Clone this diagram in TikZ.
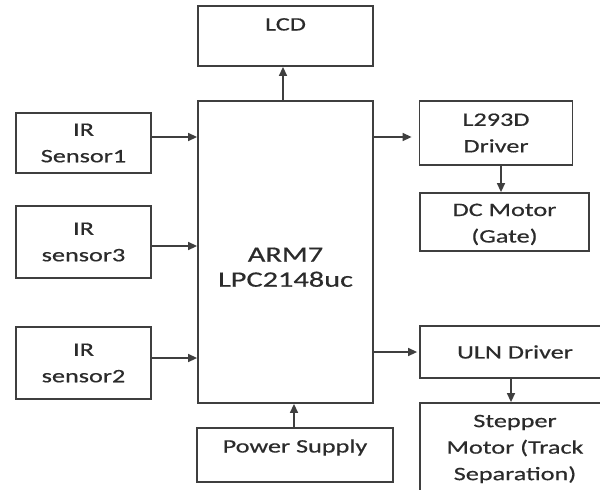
\documentclass[tikz,border=0pt]{standalone}
\usepackage{fontspec}
\setmainfont{Carlito}[FakeStretch=1.38, FakeBold=0.5]
\definecolor{lineGray}{HTML}{3F3F3F}
\definecolor{textDark}{HTML}{2B2B2B}
\usetikzlibrary{positioning, arrows.meta}

\tikzset{
  block/.style={draw=lineGray, line width=1.8pt, inner sep=0pt, align=center,
                text=textDark, font=\fontsize{19pt}{26.5pt}\selectfont},
  link/.style={draw=lineGray, line width=1.4pt, -{Triangle[length=9pt, width=8pt]}}
}

\begin{document}
\begin{tikzpicture}[x=1pt, y=-1pt]
  \useasboundingbox (0,0) rectangle (600,490);
  \fill[white] (0,0) rectangle (600,490);
  \clip (0,0) rectangle (600,490);

  % controller and display
  \node[block, minimum width=175pt, minimum height=302pt, text height=80pt, text depth=10.6pt,
        font=\fontsize{22pt}{25pt}\selectfont] (arm) at (285.5,252) {ARM7\\LPC2148uc};
  \node[block, minimum width=175pt, minimum height=60pt, text height=12pt, text depth=23pt] (lcd) at (285.5,36) {LCD};
  \node[block, minimum width=196pt, minimum height=54pt, text height=12pt, text depth=17pt] (power) at (295,455) {Power Supply};

  % sensors
  \node[block, minimum width=135pt, minimum height=60pt] (irOne) at (83.5,143) {IR\\Sensor1};
  \node[block, minimum width=135pt, minimum height=72pt] (irThree) at (83.5,242) {IR\\sensor3};
  \node[block, minimum width=135pt, minimum height=72pt] (irTwo) at (83.5,363) {IR\\sensor2};

  % drivers and motors
  \node[block, minimum width=153pt, minimum height=64pt] (l293) at (496,133) {L293D\\Driver};
  \node[block, minimum width=169pt, minimum height=58pt, text height=45pt, text depth=4pt] (dcMotor) at (504.5,222) {DC Motor\\(Gate)};
  \node[block, minimum width=190pt, minimum height=52pt] (uln) at (515,352) {ULN Driver};
  \node[block, minimum width=190pt, minimum height=92pt] (stepper) at (515,449) {Stepper\\Motor (Track\\Separation)};

  % connections
  \draw[link] (arm.north -| 283,0) -- (lcd.south -| 283,0);
  \draw[link] ([yshift=6pt]irOne.east) -- ([yshift=6pt]irOne.east -| arm.west);
  \draw[link] ([yshift=-4pt]irThree.east) -- ([yshift=-4pt]irThree.east -| arm.west);
  \draw[link] ([yshift=5pt]irTwo.east) -- ([yshift=5pt]irTwo.east -| arm.west);
  \draw[link, shorten >=7pt] ([yshift=-4pt]l293.west -| arm.east) -- ([yshift=-4pt]l293.west);
  \draw[link, shorten >=2pt] (uln.west -| arm.east) -- (uln.west);
  \draw[link] ([xshift=5pt]l293.south) -- ([xshift=5pt]l293.south |- dcMotor.north);
  \draw[link] (uln.south -| 511,0) -- (stepper.north -| 511,0);
  \draw[link] (power.north -| 294,0) -- (arm.south -| 294,0);
\end{tikzpicture}
\end{document}
